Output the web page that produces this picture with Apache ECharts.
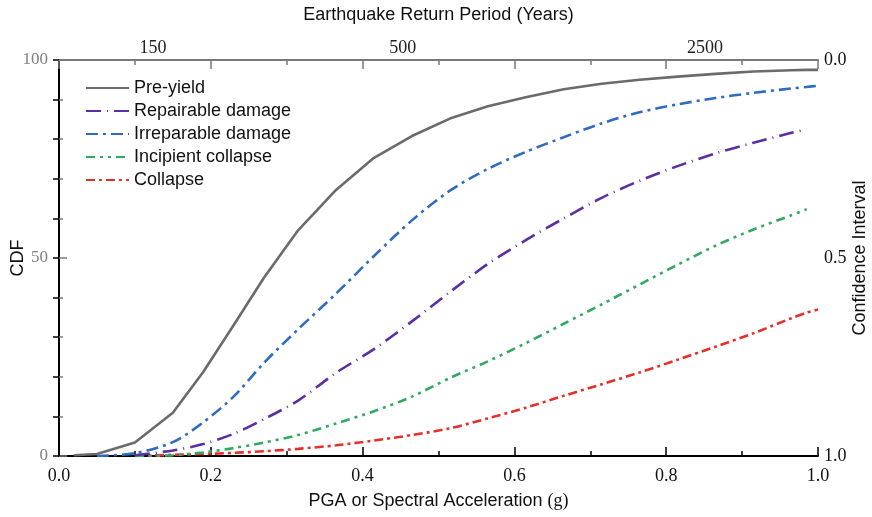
<!DOCTYPE html>
<html>
<head>
<meta charset="utf-8">
<script src="https://cdn.jsdelivr.net/npm/echarts@6/dist/echarts.min.js"></script>
<style>
html,body{margin:0;padding:0;background:#fff;}
#chart{width:872px;height:517px;}
</style>
</head>
<body>
<div id="chart"></div>
<script>
// PGA (g) sample positions
const pga = [0.02, 0.05, 0.10, 0.15, 0.19, 0.23, 0.27, 0.315, 0.365, 0.415, 0.465, 0.515, 0.565, 0.615, 0.665, 0.715, 0.765, 0.815, 0.865, 0.915, 0.965, 0.985, 1.0];
// CDF values (%) per damage state (null = not drawn)
const preYield      = [0.2, 0.5, 3.4, 10.9, 21.2, 33, 45, 57, 67.2, 75.3, 80.8, 85.2, 88.3, 90.6, 92.6, 94.0, 95.0, 95.8, 96.5, 97.1, 97.4, 97.5, 97.5];
const repairable    = [null, null, 0.2, 1.4, 3.0, 5.6, 9.3, 14, 21, 27, 34, 41.4, 48.5, 54.5, 60, 65.2, 69.5, 73.2, 76.4, 79.1, 81.6, 82.5, null];
const irreparable   = [null, 0, 0.7, 3.5, 8.5, 15, 23.5, 32, 41, 50.5, 59.5, 67, 72.5, 76.8, 80.5, 84, 86.8, 88.8, 90.4, 91.7, 92.8, 93.2, 93.5];
const incipient     = [null, null, 0, 0.2, 0.9, 2.0, 3.4, 5.3, 8.2, 11.3, 15, 19.7, 23.9, 28.5, 33.4, 38.3, 43.3, 48.3, 53.1, 57.2, 60.8, 62.3, null];
const collapse      = [null, null, 0, 0.3, 0.5, 0.8, 1.2, 1.8, 2.7, 3.9, 5.3, 7.0, 9.5, 12.2, 15.2, 18.1, 21.1, 24.3, 27.6, 31.0, 34.8, 36.2, 37.0];

const seriesNames = ['Pre-yield', 'Repairable damage', 'Irreparable damage', 'Incipient collapse', 'Collapse'];
// top axis: earthquake return period labels and their PGA positions
const returnPeriodLabels = ['150', '500', '2500'];
const returnPeriodPos = [0.124, 0.453, 0.851];
// left / right axis label sets
const cdfLabels = [0, 50, 100];
const ciLabels = [0.0, 0.5, 1.0];

function pairs(vals) {
  const out = [];
  pga.forEach((x, i) => { if (vals[i] !== null) out.push([x, vals[i]]); });
  return out;
}

const serif = '"Liberation Serif", "Times New Roman", serif';
const sans = '"Liberation Sans", Arial, sans-serif';
const gray = '#7a7a7a';

const styles = [
  { color: '#6b6b6b', type: 'solid', width: 2.6 },
  { color: '#5a2ea6', type: [15, 6, 1, 6], width: 2.6 },
  { color: '#2f6cbf', type: [12, 5, 3, 5], width: 2.6 },
  { color: '#33a862', type: [9, 5, 3, 5, 3, 5], width: 2.6 },
  { color: '#e3302a', type: [9, 4, 3, 4], width: 2.6 }
];
const allVals = [preYield, repairable, irreparable, incipient, collapse];

const chart = echarts.init(document.getElementById('chart'));
chart.setOption({
  animation: false,
  backgroundColor: '#fff',
  grid: { left: 59, right: 54, top: 60, bottom: 61, containLabel: false, outerBoundsMode: 'none' },
  legend: {
    orient: 'vertical', left: 80, top: 74,
    itemWidth: 43, itemHeight: 14, itemGap: 5,
    itemStyle: { opacity: 0 },
    textStyle: { fontFamily: sans, fontSize: 18, color: '#111' },
    data: seriesNames
  },
  xAxis: [
    {
      type: 'value', position: 'bottom', min: 0, max: 1, interval: 0.2,
      axisLine: { lineStyle: { color: '#000', width: 2 } },
      axisTick: { inside: true, length: 9, lineStyle: { color: '#000', width: 1.5 } },
      minorTick: { show: true, splitNumber: 2, length: 5, lineStyle: { color: '#000', width: 1.5 } },
      splitLine: { show: false },
      axisLabel: { fontFamily: serif, fontSize: 18, color: '#111', margin: 11, formatter: v => v.toFixed(1) },
      name: 'PGA or Spectral Acceleration {s|(g)}', nameLocation: 'middle', nameGap: 36, nameMoveOverlap: false,
      nameTextStyle: { fontFamily: sans, fontSize: 18, color: '#111', rich: { s: { fontFamily: serif, fontSize: 18, color: '#111' } } }
    },
    {
      type: 'value', position: 'top', min: 0, max: 1, interval: 0.2,
      axisLine: { lineStyle: { color: gray, width: 2 } },
      axisTick: { inside: true, length: 9, lineStyle: { color: gray, width: 1.5 } },
      minorTick: { show: true, splitNumber: 2, length: 5, lineStyle: { color: gray, width: 1.5 } },
      splitLine: { show: false },
      axisLabel: {
        customValues: returnPeriodPos,
        fontFamily: serif, fontSize: 18, color: '#222', margin: 3,
        formatter: v => { const i = returnPeriodPos.findIndex(p => Math.abs(p - v) < 1e-6); return i >= 0 ? returnPeriodLabels[i] : ''; }
      },
      name: 'Earthquake Return Period (Years)', nameLocation: 'middle', nameGap: 36, nameMoveOverlap: false,
      nameTextStyle: { fontFamily: sans, fontSize: 18, color: '#111' }
    }
  ],
  yAxis: [
    {
      type: 'value', position: 'left', min: 0, max: 100, interval: 50,
      axisLine: { show: true, lineStyle: { color: gray, width: 2 } },
      axisTick: { show: true, inside: true, length: 8, lineStyle: { color: gray, width: 1.5 } },
      minorTick: { show: true, splitNumber: 5, length: 4, lineStyle: { color: gray, width: 1.5 } },
      splitLine: { show: false },
      axisLabel: { customValues: cdfLabels, fontFamily: serif, fontSize: 17, color: '#808080', margin: 11 },
      name: 'CDF', nameLocation: 'middle', nameGap: 32, nameRotate: 90, nameMoveOverlap: false,
      nameTextStyle: { fontFamily: sans, fontSize: 18, color: '#111' }
    },
    {
      type: 'value', position: 'right', min: 0, max: 1, interval: 0.5, inverse: true,
      axisLine: { show: true, lineStyle: { color: '#000', width: 2 } },
      axisTick: { show: true, inside: true, length: 6, lineStyle: { color: '#000', width: 1.5 } },
      minorTick: { show: true, splitNumber: 5, length: 6, lineStyle: { color: '#000', width: 1.5 } },
      splitLine: { show: false },
      axisLabel: { customValues: ciLabels, fontFamily: serif, fontSize: 18, color: '#111', margin: 6, formatter: v => v.toFixed(1) },
      name: 'Confidence Interval', nameLocation: 'middle', nameGap: 33, nameRotate: 90, nameMoveOverlap: false,
      nameTextStyle: { fontFamily: sans, fontSize: 18, color: '#111' }
    }
  ],
  series: seriesNames.map((n, k) => ({
    name: n, type: 'line', xAxisIndex: 0, yAxisIndex: 0,
    data: pairs(allVals[k]), showSymbol: false, symbol: 'none',
    smooth: k === 0 ? false : 0.3,
    lineStyle: styles[k], itemStyle: { color: styles[k].color },
    z: 5 - k
  }))
});
</script>
</body>
</html>
